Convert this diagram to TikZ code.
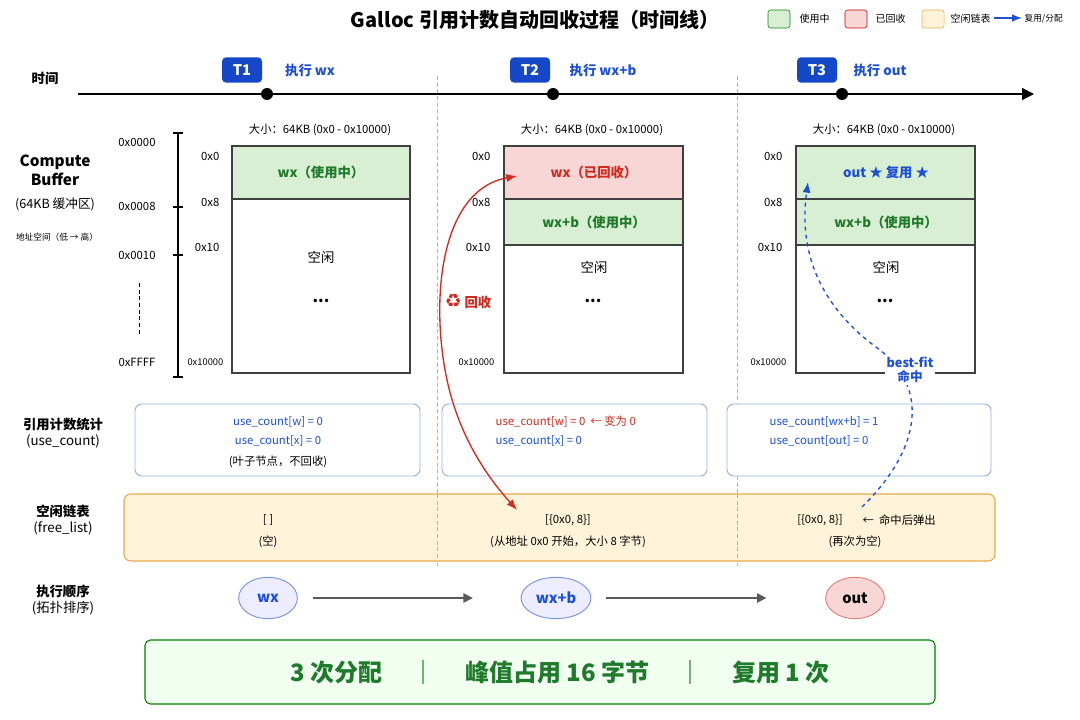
\documentclass[tikz,border=0pt]{standalone}
\usepackage{fontspec}
\setmainfont{Noto Sans CJK SC}
\newfontfamily\symfont{DejaVu Sans}
\usetikzlibrary{arrows.meta,shapes.geometric}
\definecolor{usedfill}{HTML}{D9EFD3}
\definecolor{freedfill}{HTML}{F9D6D6}
\definecolor{listfill}{HTML}{FFF4DA}
\definecolor{listdraw}{HTML}{E8A94A}
\definecolor{badge}{HTML}{1548C8}
\definecolor{bluetext}{HTML}{1C4FD6}
\definecolor{greentext}{HTML}{1F7A2B}
\definecolor{redtext}{HTML}{D22A1E}
\definecolor{cntdraw}{HTML}{8FB0E8}
\tikzset{
  lbl/.style={font=\fontsize{10}{12}\selectfont\bfseries, align=center},
  small/.style={font=\fontsize{8.5}{10}\selectfont},
  addr/.style={font=\fontsize{8.5}{10}\selectfont},
  tbadge/.style={fill=badge, text=white, rounded corners=3pt, minimum width=30pt, minimum height=19pt, font=\fontsize{11}{13}\selectfont\bfseries},
  stepname/.style={text=bluetext, font=\fontsize{10}{12}\selectfont\bfseries},
  mem/.style={draw=black!75, line width=0.8pt},
  cnt/.style={draw=cntdraw, fill=white, rounded corners=5pt, line width=0.7pt},
  op/.style={ellipse, draw=bluetext!60, fill=blue!7, line width=0.7pt, minimum width=44pt, minimum height=31pt, font=\fontsize{11}{13}\selectfont\bfseries, text=bluetext},
  sep/.style={densely dashed, gray!60, line width=0.5pt}
}
\begin{document}
\begin{tikzpicture}[x=0.75pt, y=-0.75pt]
\useasboundingbox (0,0) rectangle (1080,720);
% title and legend
\node[font=\fontsize{15}{18}\selectfont\bfseries] (title) at (535,20) {Galloc 引用计数自动回收过程（时间线）};
\draw[draw=green!55!black, fill=usedfill, rounded corners=2pt] (768,10) rectangle (790,28);
\node[font=\fontsize{7.5}{9}\selectfont, anchor=west] (lg1) at (795,19) {使用中};
\draw[draw=red!80!black, fill=freedfill, rounded corners=2pt] (845,10) rectangle (867,28);
\node[font=\fontsize{7.5}{9}\selectfont, anchor=west] (lg2) at (871,19) {已回收};
\draw[draw=listdraw, fill=listfill, rounded corners=2pt] (922,10) rectangle (944,28);
\node[font=\fontsize{7.5}{9}\selectfont, anchor=west] (lg3) at (946,19) {空闲链表};
\coordinate (lga) at (994,18);
\coordinate (lgb) at (1022,18);
\draw[-{Latex}, bluetext, line width=1pt] (lga) -- (lgb);
\node[font=\fontsize{6.5}{8}\selectfont, anchor=west, inner sep=1pt] (lg4) at (1023,19) {复用/分配};
% time line
\node[lbl] (time) at (45,78) {时间};
\coordinate (tstart) at (78,94);
\coordinate (tend) at (1034,94);
\draw[-{Triangle[length=9pt,width=9pt]}, line width=1.3pt] (tstart) -- (tend);
\foreach \x/\t/\s/\sx in {242/T1/执行 wx/310, 530/T2/执行 wx+b/603, 817/T3/执行 out/880}{
  \node[tbadge] at (\x,70) {\t};
  \node[stepname] at (\sx,70) {\s};
}
\foreach \x in {267,553,842} \fill (\x,94) circle (4.5pt);
\draw[sep] (437,76) -- (437,566);
\draw[sep] (737,76) -- (737,566);
% left labels
\node[font=\fontsize{11.5}{14}\selectfont\bfseries, align=center] (cb) at (55,170) {Compute\\Buffer};
\node[font=\fontsize{9.5}{11}\selectfont] (cbs) at (55,204) {(64KB 缓冲区)};
\node[font=\fontsize{6.5}{8}\selectfont] (as) at (57,237) {地址空间（低 → 高）};
\draw[line width=1pt] (178,133) -- (178,377);
\foreach \y in {133,207,255,377} \draw[line width=1pt] (173,\y) -- (183,\y);
\node[addr] at (137,142) {0x0000};
\node[addr] at (137,206) {0x0008};
\node[addr] at (137,255) {0x0010};
\node[addr] at (137,362) {0xFFFF};
\draw[densely dashed, line width=0.6pt] (139,283) -- (139,335);
% memory panels
\foreach \x/\a in {232/212, 504/483, 796/775}{
  \node[small] at (\x+88,130) {大小：64KB (0x0 - 0x10000)};
  \node[addr, anchor=east] at (\a+12,156) {0x0};
  \node[addr, anchor=east] at (\a+12,202) {0x8};
  \node[addr, anchor=east] at (\a+12,247) {0x10};
  \node[font=\fontsize{7}{9}\selectfont, anchor=east] at (\a+16,362) {0x10000};
  \node[font=\fontsize{12}{14}\selectfont\bfseries] at (\x+89,301) {...};
}
% T1
\draw[mem, fill=usedfill] (232,146) rectangle (410,199);
\draw[mem] (232,199) rectangle (410,373);
\node[text=greentext, font=\fontsize{10}{12}\selectfont\bfseries] (wx1) at (321,172) {wx（使用中）};
\node[font=\fontsize{10}{12}\selectfont] (free1) at (321,257) {空闲};
% T2
\draw[mem, fill=freedfill] (504,146) rectangle (683,199);
\draw[mem, fill=usedfill] (504,199) rectangle (683,245);
\draw[mem] (504,245) rectangle (683,373);
\node[text=redtext, font=\fontsize{10}{12}\selectfont\bfseries] (wx2) at (594,172) {wx（已回收）};
\node[text=greentext, font=\fontsize{10}{12}\selectfont\bfseries] (wxb2) at (594,222) {wx+b（使用中）};
\node[font=\fontsize{10}{12}\selectfont] (free2) at (594,267) {空闲};
% T3
\draw[mem, fill=usedfill] (796,146) rectangle (975,199);
\draw[mem, fill=usedfill] (796,199) rectangle (975,245);
\draw[mem] (796,245) rectangle (975,373);
\node[text=bluetext, font=\fontsize{10}{12}\selectfont\bfseries] (out3) at (886,172) {out ★ 复用 ★};
\node[text=greentext, font=\fontsize{10}{12}\selectfont\bfseries] (wxb3) at (886,222) {wx+b（使用中）};
\node[font=\fontsize{10}{12}\selectfont] (free3) at (886,267) {空闲};
% use_count
\node[lbl] (uc) at (63,433) {引用计数统计\\{\normalfont(use\_count)}};
\draw[cnt] (135,404) rectangle (420,476);
\draw[cnt] (442,404) rectangle (707,476);
\draw[cnt] (727,404) rectangle (991,476);
\node[small, text=bluetext] (uc1a) at (278,422) {use\_count[w] = 0};
\node[small, text=bluetext] (uc1b) at (278,441) {use\_count[x] = 0};
\node[small] (uc1n) at (278,462) {(叶子节点，不回收)};
\node[small, text=redtext, anchor=west] (uc2a) at (491,422) {use\_count[w] = 0 \ ← 变为 0};
\node[small, text=bluetext, anchor=west] (uc2b) at (491,441) {use\_count[x] = 0};
\node[small, text=bluetext, anchor=west] (uc3a) at (765,422) {use\_count[wx+b] = 1};
\node[small, text=bluetext, anchor=west] (uc3b) at (765,441) {use\_count[out] = 0};
% free_list
\node[lbl] (fl) at (63,520) {空闲链表\\{\normalfont(free\_list)}};
\draw[draw=listdraw, fill=listfill, rounded corners=5pt, line width=0.8pt] (124,494) rectangle (995,561);
\draw[sep] (437,494) -- (437,561);
\draw[sep] (737,494) -- (737,561);
\node[small] (fl1) at (268,520) {[ ]};
\node[small] (fl1n) at (268,542) {(空)};
\node[small] (fl2) at (568,520) {[\{0x0, 8\}]};
\node[small] (fl2n) at (568,542) {(从地址 0x0 开始，大小 8 字节)};
\node[small] (fl3) at (820,520) {[\{0x0, 8\}]};
\node[small, anchor=west] (fl3h) at (858,520) {← \ 命中后弹出};
\node[small] (fl3n) at (855,542) {(再次为空)};
% order
\node[lbl] (ord) at (63,600) {执行顺序\\{\normalfont(拓扑排序)}};
\node[op] (owx) at (268,598) {wx};
\node[op] (owxb) at (556,598) {wx+b};
\node[op, draw=redtext!60, fill=freedfill, text=black] (oout) at (855,598) {out};
\draw[-{Triangle[length=7pt,width=7pt]}, gray!70!black, line width=1pt] (owx.east) ++(15,0) -- ++(160,0);
\draw[-{Triangle[length=7pt,width=7pt]}, gray!70!black, line width=1pt] (owxb.east) ++(15,0) -- ++(160,0);
% reclaim / reuse arrows
\coordinate (rtop) at (517,176);
\coordinate (rbot) at (517,510);
\draw[{Latex[length=8pt]}-{Latex[length=8pt]}, redtext, line width=1pt] (rtop) .. controls (440,190) and (430,300) .. (447,380) .. controls (460,440) and (490,480) .. (rbot);
\node[fill=white, inner sep=1pt, text=redtext, font=\fontsize{10}{12}\selectfont\bfseries] (rc) at (468,302) {{\symfont\fontsize{14}{14}\selectfont ♻} 回收};
\coordinate (bbot) at (862,507);
\coordinate (btop) at (808,182);
\draw[-{Latex[length=8pt]}, bluetext, dashed, line width=1pt] (bbot) .. controls (920,450) and (930,390) .. (880,350) .. controls (810,300) and (800,240) .. (btop);
\node[fill=white, inner sep=1pt, text=bluetext, font=\fontsize{9.5}{11}\selectfont\bfseries, align=center] (bf) at (910,370) {best-fit\\命中};
% summary
\draw[draw=green!50!black, fill=green!6, rounded corners=4pt, line width=0.8pt] (145,640) rectangle (935,704);
\node[text=greentext, font=\fontsize{18}{20}\selectfont\bfseries] (sum) at (560,672) {3 次分配 \quad ｜ \quad 峰值占用 16 字节 \quad ｜ \quad 复用 1 次};
\end{tikzpicture}
\end{document}
